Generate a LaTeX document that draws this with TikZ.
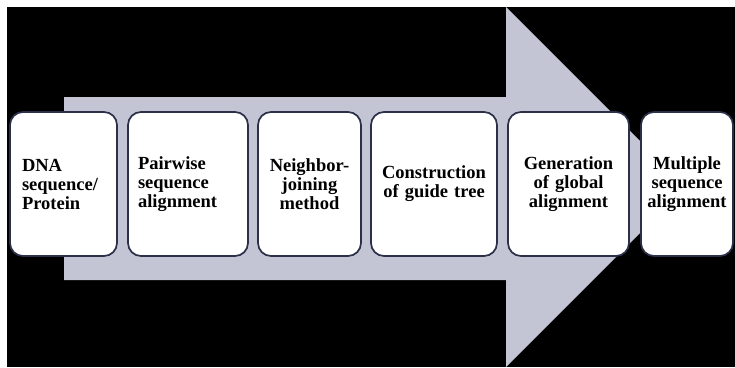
\documentclass[tikz,border=0pt]{standalone}
\usepackage{fontspec}
\setmainfont{Liberation Serif}
\begin{document}
\begin{tikzpicture}[x=1pt,y=-1pt,
  stagebox/.style={draw=boxline, line width=1.7pt, fill=white, rounded corners=13pt,
    minimum height=144pt, inner ysep=0pt, font=\bfseries\fontsize{18.5}{19}\selectfont},
  leftbox/.style={stagebox, align=left},
  midbox/.style={stagebox, align=center}]
\definecolor{arrowgrey}{HTML}{C3C5D4}
\definecolor{boxline}{HTML}{2B3048}
% page and dark panel
\useasboundingbox (0,0) rectangle (735,367);
\fill[white] (0,0) rectangle (735,367);
\fill[black] (7,7) rectangle (735,367);
% big process arrow
\fill[arrowgrey] (64,97) -- (506,97) -- (506,7) -- (686,187) -- (506,367)
  -- (506,280) -- (64,280) -- cycle;
% stages
\node[leftbox, minimum width=107pt, text width=83pt, inner xsep=12pt] (s1) at (63.5,184)
  {DNA\\sequence/\\Protein};
\node[leftbox, minimum width=120pt, text width=100pt, inner xsep=10pt] (s2) at (188,184)
  {Pairwise\\sequence\\alignment};
\node[midbox, minimum width=103pt, text width=95pt, inner xsep=4pt] (s3) at (309.5,184)
  {Neighbor-\\joining\\method};
\node[midbox, minimum width=126pt, text width=118pt, inner xsep=4pt] (s4) at (434,184)
  {Construction\\of guide tree};
\node[midbox, minimum width=121pt, text width=113pt, inner xsep=4pt] (s5) at (568.5,184)
  {Generation\\of global\\alignment};
\node[midbox, minimum width=92pt, text width=90pt, inner xsep=1pt] (s6) at (687,184)
  {Multiple\\sequence\\alignment};
\end{tikzpicture}
\end{document}
